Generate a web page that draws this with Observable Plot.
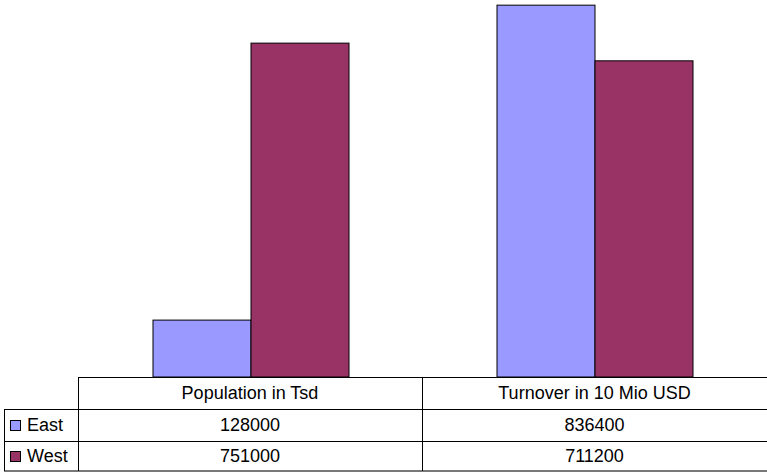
<!DOCTYPE html>
<html>
<head>
<meta charset="utf-8">
<script src="https://cdn.jsdelivr.net/npm/d3@7"></script>
<script src="https://cdn.jsdelivr.net/npm/@observablehq/plot@0.6"></script>
<style>
  html, body { margin: 0; padding: 0; background: #fff; }
  #wrap { position: relative; width: 767px; height: 472px; overflow: hidden;
          font-family: "Liberation Sans", Arial, sans-serif; font-size: 18px; color: #000; }
  #chart svg { display: block; }
  .cell { position: absolute; display: flex; align-items: center; justify-content: center;
          box-sizing: border-box; white-space: nowrap; }
  .hline, .vline { position: absolute; background: #000; }
  .key { display: inline-block; width: 9px; height: 9px; border: 1px solid #000; margin-right: 6px; }
</style>
</head>
<body>
<div id="wrap">
  <div id="chart"></div>
  <div id="table"></div>
</div>
<script>
// Categories, series and values
const categories = ["Population in Tsd", "Turnover in 10 Mio USD"];
const series = ["East", "West"];
const eastValues = [128000, 836400];
const westValues = [751000, 711200];
const seriesColors = ["#9999ff", "#993366"];

const valuesBySeries = {East: eastValues, West: westValues};
const data = series.flatMap(s => categories.map((c, i) => ({category: c, series: s, value: valuesBySeries[s][i]})));

const chart = Plot.plot({
  width: 767,
  height: 378,
  marginTop: 0,
  marginBottom: 1,
  marginLeft: 78,
  marginRight: 0,
  fx: {domain: categories, padding: 0, axis: null},
  x: {domain: series, paddingInner: 0, paddingOuter: 0.75, axis: null},
  y: {domain: [0, 848000], axis: null},
  color: {domain: series, range: seriesColors},
  marks: [
    Plot.barY(data, {fx: "category", x: "series", y: "value", fill: "series", stroke: "#000", strokeWidth: 1})
  ]
});
document.getElementById("chart").appendChild(chart);

// Data table under the bars
const table = document.getElementById("table");
const colEdges = [4, 78, 422, 767];
const rowEdges = [377, 409, 441, 471];
function add(cls, style, html) {
  const d = document.createElement("div");
  d.className = cls;
  Object.assign(d.style, style);
  if (html != null) d.innerHTML = html;
  table.appendChild(d);
  return d;
}
// header row
categories.forEach((c, i) => {
  add("cell", {left: colEdges[i + 1] + "px", top: rowEdges[0] + "px",
    width: (colEdges[i + 2] - colEdges[i + 1]) + "px", height: (rowEdges[1] - rowEdges[0]) + "px"}).textContent = c;
});
// series rows
series.forEach((s, r) => {
  const top = rowEdges[r + 1], h = rowEdges[r + 2] - top;
  add("cell", {left: (colEdges[0] + 2) + "px", top: top + "px", width: (colEdges[1] - colEdges[0] - 2) + "px",
    height: h + "px", justifyContent: "flex-start", paddingLeft: "4px"},
    `<span class="key" style="background:${seriesColors[r]}"></span>${s}`);
  valuesBySeries[s].forEach((v, i) => {
    add("cell", {left: colEdges[i + 1] + "px", top: top + "px",
      width: (colEdges[i + 2] - colEdges[i + 1]) + "px", height: h + "px"}).textContent = String(v);
  });
});
// grid lines
add("hline", {left: colEdges[1] + "px", top: rowEdges[0] + "px", width: (767 - colEdges[1]) + "px", height: "1px"});
add("hline", {left: colEdges[0] + "px", top: rowEdges[1] + "px", width: (767 - colEdges[0]) + "px", height: "1px"});
add("hline", {left: colEdges[0] + "px", top: rowEdges[2] + "px", width: (767 - colEdges[0]) + "px", height: "1px"});
add("hline", {left: colEdges[0] + "px", top: (rowEdges[3] - 1) + "px", width: (767 - colEdges[0]) + "px", height: "2px", background: "#777"});
add("vline", {left: colEdges[0] + "px", top: rowEdges[1] + "px", width: "1px", height: (rowEdges[3] - rowEdges[1]) + "px"});
add("vline", {left: colEdges[1] + "px", top: rowEdges[0] + "px", width: "1px", height: (rowEdges[3] - rowEdges[0]) + "px"});
add("vline", {left: colEdges[2] + "px", top: rowEdges[0] + "px", width: "1px", height: (rowEdges[3] - rowEdges[0]) + "px"});
</script>
</body>
</html>
